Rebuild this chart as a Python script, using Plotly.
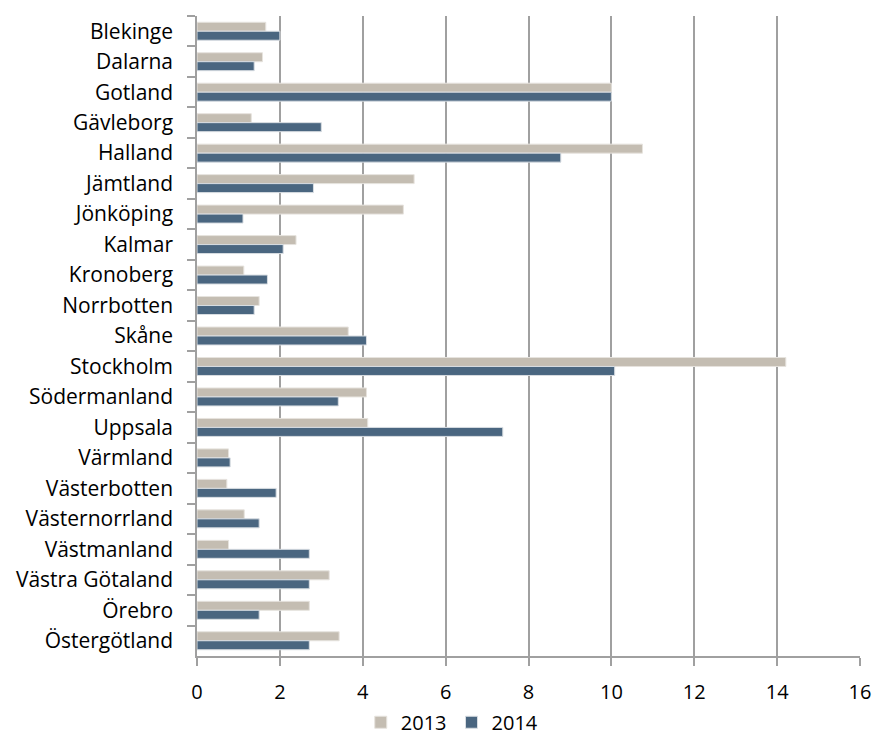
import plotly.graph_objects as go

categories = ["Blekinge", "Dalarna", "Gotland", "Gävleborg", "Halland", "Jämtland",
              "Jönköping", "Kalmar", "Kronoberg", "Norrbotten", "Skåne", "Stockholm",
              "Södermanland", "Uppsala", "Värmland", "Västerbotten", "Västernorrland",
              "Västmanland", "Västra Götaland", "Örebro", "Östergötland"]
values_2013 = [1.66, 1.58, 10.0, 1.31, 10.75, 5.24, 4.98, 2.39, 1.13, 1.50, 3.65, 14.21,
               4.09, 4.12, 0.76, 0.72, 1.14, 0.76, 3.19, 2.71, 3.43]
values_2014 = [2.0, 1.38, 10.0, 3.0, 8.78, 2.81, 1.11, 2.08, 1.70, 1.38, 4.09, 10.08,
               3.41, 7.38, 0.80, 1.91, 1.50, 2.71, 2.71, 1.50, 2.71]
x_ticks = [0, 2, 4, 6, 8, 10, 12, 14, 16]

fig = go.Figure()
fig.add_trace(go.Bar(y=categories, x=values_2013, orientation="h", name="2013",
                     marker=dict(color="#c4bdb2", line=dict(color="#e6e3de", width=1))))
fig.add_trace(go.Bar(y=categories, x=values_2014, orientation="h", name="2014",
                     marker=dict(color="#4a6680", line=dict(color="#d8dde2", width=1))))

fig.update_layout(
    width=873, height=742,
    barmode="group", bargap=0.41, bargroupgap=0.0,
    plot_bgcolor="white", paper_bgcolor="white",
    margin=dict(l=197, r=13, t=16, b=86, autoexpand=False),
    font=dict(family="Open Sans, sans-serif", size=20, color="#000000"),
    legend=dict(orientation="h", x=0.385, xanchor="center", y=-0.134, yanchor="bottom",
                font=dict(size=20), itemwidth=30),
    showlegend=True,
)
fig.update_xaxes(range=[0, 16], tickvals=x_ticks, showgrid=True, gridcolor="#a0a0a0",
                 gridwidth=1.5, showline=True, linecolor="#a0a0a0", linewidth=1.5,
                 ticks="outside", ticklen=8, tickcolor="#a0a0a0", tickwidth=1.5,
                 zeroline=False, ticklabelstandoff=9, automargin=False,
                 tickfont=dict(size=20))
fig.update_yaxes(autorange="reversed", showline=True, linecolor="#a0a0a0", linewidth=1.5,
                 ticks="outside", ticklen=8, tickcolor="#a0a0a0", tickwidth=1.5,
                 tickson="boundaries", showgrid=False, ticklabelstandoff=18,
                 automargin=False, tickfont=dict(size=21))

fig.write_html("out.html", config={"displayModeBar": False},
               post_script="document.body.style.margin='0';document.body.style.overflow='hidden';")
